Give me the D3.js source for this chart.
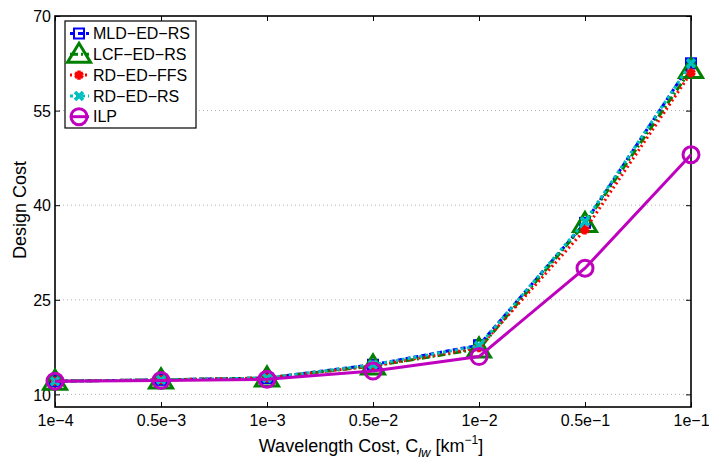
<!DOCTYPE html>
<html>
<head>
<meta charset="utf-8">
<script src="https://cdn.jsdelivr.net/npm/d3@7"></script>
<style>
  body { margin: 0; background: #fff; }
  svg text { font-family: Arial, "Liberation Sans", Helvetica, sans-serif; fill: #000; }
</style>
</head>
<body>
<div id="chart"></div>
<script>
// x categories (wavelength cost)
const costs = ["1e\u22124", "0.5e\u22123", "1e\u22123", "0.5e\u22122", "1e\u22122", "0.5e\u22121", "1e\u22121"];
const yTicks = [10, 25, 40, 55, 70];

// design cost per heuristic
const mldEdRs = [12.1, 12.3, 12.6, 14.7, 17.8, 37.2, 62.5];
const lcfEdRs = [12.1, 12.3, 12.6, 14.5, 17.2, 37.1, 61.5];
const rdEdFfs = [12.1, 12.3, 12.6, 14.5, 17.4, 36.1, 61.0];
const rdEdRs  = [12.1, 12.3, 12.6, 14.7, 17.7, 37.4, 62.5];
const ilp     = [12.1, 12.2, 12.4, 13.7, 16.0, 30.0, 48.0];

const series = [
  { name: "MLD\u2212ED\u2212RS", values: mldEdRs, color: "#0000ff", dash: "5,3", marker: "square" },
  { name: "LCF\u2212ED\u2212RS", values: lcfEdRs, color: "#008000", dash: "8,3,2,3", marker: "triangle" },
  { name: "RD\u2212ED\u2212FFS", values: rdEdFfs, color: "#ff0000", dash: "2,3", marker: "star" },
  { name: "RD\u2212ED\u2212RS", values: rdEdRs, color: "#00bfbf", dash: "3,3", marker: "x" },
  { name: "ILP", values: ilp, color: "#bf00bf", dash: null, marker: "circle" }
];

const width = 709, height = 463;
const mLeft = 55, mRight = 691, mTop = 16, mBottom = 407;

const svg = d3.select("#chart").append("svg")
  .attr("width", width)
  .attr("height", height);

const x = d3.scalePoint().domain(costs).range([mLeft, mRight]).padding(0);
const y = d3.scaleLinear().domain([8, 70]).range([mBottom, mTop]);

// dotted horizontal grid
svg.append("g").selectAll("line")
  .data(yTicks.filter(t => t < 70))
  .join("line")
  .attr("x1", mLeft).attr("x2", mRight)
  .attr("y1", d => y(d)).attr("y2", d => y(d))
  .attr("stroke", "#b0b0b0")
  .attr("stroke-width", 1)
  .attr("stroke-dasharray", "1,3");

// axes: ticks inward, labels drawn by the axis
const gLeft = svg.append("g").attr("transform", `translate(${mLeft},0)`)
  .call(d3.axisLeft(y).tickValues(yTicks).tickSizeInner(-5).tickSizeOuter(0).tickPadding(4));
const gRight = svg.append("g").attr("transform", `translate(${mRight},0)`)
  .call(d3.axisRight(y).tickValues(yTicks).tickSizeInner(-5).tickSizeOuter(0).tickFormat(""));
const gBottom = svg.append("g").attr("transform", `translate(0,${mBottom})`)
  .call(d3.axisBottom(x).tickSizeInner(-5).tickSizeOuter(0).tickPadding(8));
const gTop = svg.append("g").attr("transform", `translate(0,${mTop})`)
  .call(d3.axisTop(x).tickSizeInner(-5).tickSizeOuter(0).tickFormat(""));

[gLeft, gRight, gBottom, gTop].forEach(g => {
  g.select(".domain").remove();
  g.selectAll("line").attr("stroke", "#000").attr("stroke-width", 1);
  g.selectAll("text").attr("font-size", 16).attr("fill", "#000")
    .style("font-family", "Arial, 'Liberation Sans', sans-serif");
});
gLeft.selectAll("text").attr("dy", "0.36em");

// frame
svg.append("rect")
  .attr("x", mLeft).attr("y", mTop)
  .attr("width", mRight - mLeft).attr("height", mBottom - mTop)
  .attr("fill", "none").attr("stroke", "#000").attr("stroke-width", 1.6);

// marker drawing
function drawMarker(g, kind, color, cx, cy) {
  if (kind === "square") {
    g.append("rect").attr("x", cx - 5).attr("y", cy - 5).attr("width", 10).attr("height", 10)
      .attr("fill", "none").attr("stroke", color).attr("stroke-width", 2);
  } else if (kind === "triangle") {
    g.append("path")
      .attr("d", `M${cx},${cy - 11}L${cx + 11.5},${cy + 8}L${cx - 11.5},${cy + 8}Z`)
      .attr("fill", "none").attr("stroke", color).attr("stroke-width", 3).attr("stroke-linejoin", "miter");
  } else if (kind === "star") {
    g.append("path")
      .attr("d", d3.symbol().type(d3.symbolAsterisk).size(60)())
      .attr("transform", `translate(${cx},${cy})`)
      .attr("fill", "none").attr("stroke", color).attr("stroke-width", 3.5);
    g.append("circle").attr("cx", cx).attr("cy", cy).attr("r", 3).attr("fill", color);
  } else if (kind === "x") {
    g.append("path")
      .attr("d", `M${cx - 4},${cy - 4}L${cx + 4},${cy + 4}M${cx - 4},${cy + 4}L${cx + 4},${cy - 4}`)
      .attr("fill", "none").attr("stroke", color).attr("stroke-width", 3.5);
  } else if (kind === "circle") {
    g.append("circle").attr("cx", cx).attr("cy", cy).attr("r", 8)
      .attr("fill", "none").attr("stroke", color).attr("stroke-width", 3);
  }
}

const line = d3.line().x((d, i) => x(costs[i])).y(d => y(d));

series.forEach(s => {
  const g = svg.append("g");
  g.append("path")
    .attr("d", line(s.values))
    .attr("fill", "none")
    .attr("stroke", s.color)
    .attr("stroke-width", 3)
    .attr("stroke-dasharray", s.dash);
  s.values.forEach((v, i) => drawMarker(g, s.marker, s.color, x(costs[i]), y(v)));
});

// legend
const lg = svg.append("g");
lg.append("rect")
  .attr("x", 65).attr("y", 21).attr("width", 131).attr("height", 107)
  .attr("fill", "#fff").attr("stroke", "#000").attr("stroke-width", 1.2);
series.forEach((s, i) => {
  const cy = 33.5 + i * 20.8;
  lg.append("line")
    .attr("x1", 70).attr("x2", 89).attr("y1", cy).attr("y2", cy)
    .attr("stroke", s.color).attr("stroke-width", 3).attr("stroke-dasharray", s.dash);
  drawMarker(lg, s.marker, s.color, 79, cy);
  lg.append("text")
    .attr("x", 93).attr("y", cy).attr("dy", "0.36em")
    .attr("font-size", 16)
    .text(s.name);
});

// axis titles
svg.append("text")
  .attr("transform", "translate(26,210) rotate(-90)")
  .attr("text-anchor", "middle")
  .attr("font-size", 18)
  .text("Design Cost");

const xl = svg.append("text")
  .attr("x", 371).attr("y", 452)
  .attr("text-anchor", "middle")
  .attr("font-size", 18);
xl.append("tspan").text("Wavelength Cost, C");
xl.append("tspan").attr("font-size", 13).attr("font-style", "italic").attr("dy", 5).text("lw");
xl.append("tspan").attr("dy", -5).text(" [km");
xl.append("tspan").attr("font-size", 12).attr("dy", -8).text("\u22121");
xl.append("tspan").attr("dy", 8).text("]");
</script>
</body>
</html>
